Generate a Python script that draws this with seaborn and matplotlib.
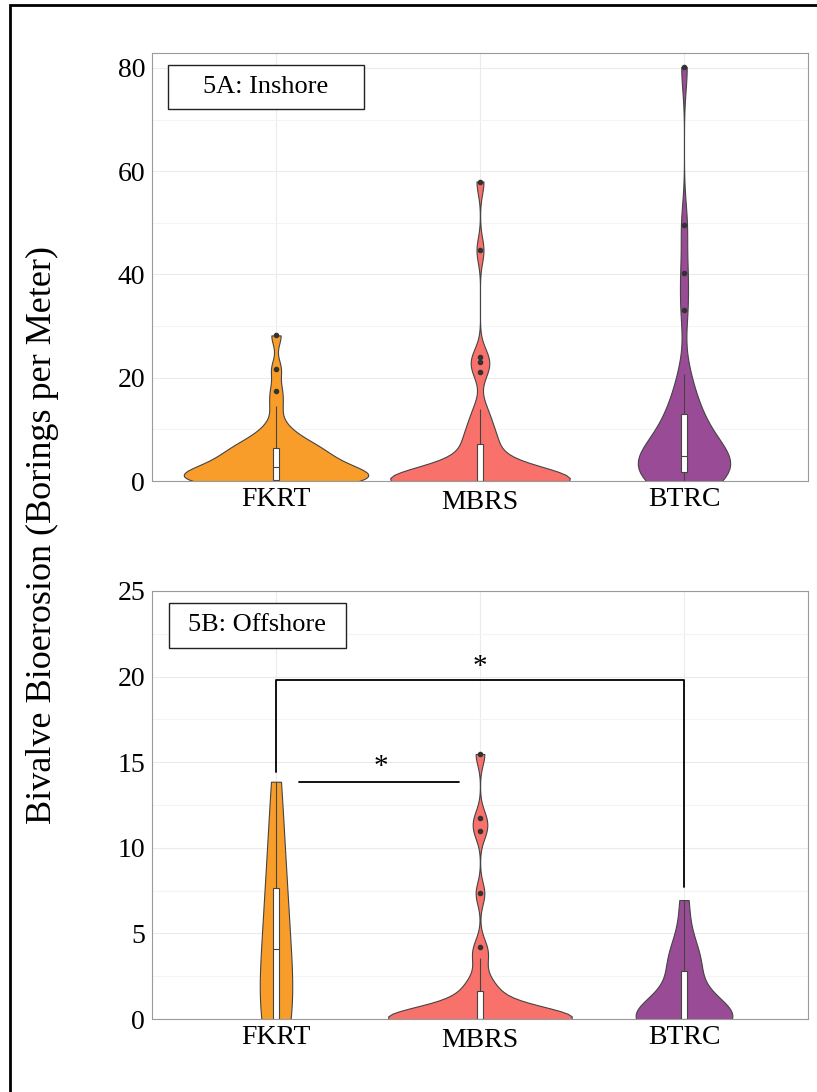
import numpy as np
import pandas as pd
import seaborn as sns
import matplotlib.pyplot as plt
from matplotlib.patches import Rectangle

sites = ['FKRT', 'MBRS', 'BTRC']
site_colors = ['#F89D2A', '#F8716B', '#9A4B95']

# 5A inshore, borings per meter
fkrt_in = [0, 0, 0, 0, 0, 0, 0, 0, 0, 0, 0.3, 0.6, 0.9, 1.2, 1.4, 1.6, 1.9, 2.2, 2.5,
           2.7, 2.8, 3.1, 3.5, 3.9, 4.3, 4.7, 5.1, 5.5, 5.9, 6.3, 6.6, 7.0, 7.6, 8.4,
           9.4, 11.0, 14.5, 17.5, 21.7, 28.2]
mbrs_in = [0] * 21 + [0.4, 0.9, 1.5, 2.1, 2.8, 3.6, 4.5, 5.6, 7.0, 7.7, 8.8, 10.2, 12.0,
                      14.0, 21.2, 23.0, 24.1, 44.7, 58.0]
btrc_in = [0, 0.2, 0.5, 0.8, 1.1, 1.4, 1.6, 1.8, 2.3, 2.8, 3.3, 3.8, 4.2, 4.5, 4.8, 5.8,
           6.9, 8.0, 9.2, 10.3, 11.6, 13.0, 14.6, 17.2, 20.7, 33.1, 40.2, 49.5, 80.2]

# 5B offshore
fkrt_off = [0, 0, 0, 0, 1.2, 2.5, 4.09, 5.0, 6.3, 7.63, 9.2, 11.5, 13.86]
mbrs_off = [0] * 18 + [0.2, 0.4, 0.6, 0.9, 1.3, 1.6, 1.8, 2.4, 3.54, 4.22, 7.34, 10.96,
                       11.72, 15.48]
btrc_off = [0] * 11 + [0.5, 1.0, 1.6, 2.7, 3.1, 3.4, 3.9, 5.0, 6.95]

# significance brackets for 5B (x in category units, y in data units)
bracket_x = [0, 0, 2, 2]
bracket_y = [14.45, 19.8, 19.8, 7.7]
star1_xy = (1, 20.55)
pair_x = [0.113, 0.897]
pair_y = [13.84, 13.84]
star2_xy = (0.515, 14.7)

# violin widths (fraction of category spacing) and kde smoothing
widths_in = [0.905, 0.88, 0.453]
widths_off = [0.159, 0.90, 0.474]
bw_adj_in = [0.8, 0.9, 1.0]
bw_adj_off = [1.0, 1.0, 0.95]

sns.set_theme(style='white')
plt.rcParams['font.family'] = ['Liberation Serif', 'DejaVu Serif']
plt.rcParams['text.color'] = 'black'


def silverman_factor(vals):
    # bandwidth like plotly's violins, returned as a factor of the std
    v = np.asarray(vals, float)
    sd = v.std(ddof=1)
    q1, q3 = np.percentile(v, [25, 75])
    bw = 1.059 * min(sd, (q3 - q1) / 1.349) * len(v) ** -0.2
    return bw / sd


def draw_panel(ax, groups, widths, bw_adj, ylim, major, minor):
    df = pd.DataFrame({
        'site': np.repeat(sites, [len(g) for g in groups]),
        'value': np.concatenate([np.asarray(g, float) for g in groups]),
    })
    for site, vals, col, w, adj in zip(sites, groups, site_colors, widths, bw_adj):
        sns.violinplot(data=df[df.site == site], x='site', y='value', order=sites,
                       color=col, saturation=1, width=w, cut=0, inner=None,
                       density_norm='width', bw_method=silverman_factor(vals),
                       bw_adjust=adj, linewidth=0.8, linecolor='#444444', ax=ax)
    sns.boxplot(data=df, x='site', y='value', order=sites, color='white',
                saturation=1, width=0.032, linewidth=0.8, linecolor='#444444',
                whis=1.5, fliersize=3,
                flierprops=dict(marker='o', markerfacecolor='#333333',
                                markeredgecolor='#333333'),
                capprops=dict(visible=False), ax=ax)
    ax.set_xlim(-0.608, 2.608)
    ax.set_ylim(*ylim)
    ax.set_yticks(major)
    ax.set_yticks(minor, minor=True)
    ax.set_axisbelow(True)
    ax.grid(which='major', color='#ebebeb', linewidth=0.8)
    ax.grid(which='minor', axis='y', color='#f4f4f4', linewidth=0.8)
    ax.set_xlabel('')
    ax.set_ylabel('')
    for s in ax.spines.values():
        s.set_color('#9a9a9a')
        s.set_linewidth(0.8)
    ax.tick_params(which='major', length=3, width=0.8, color='#9a9a9a',
                   labelsize=20, pad=2, labelcolor='black')
    ax.tick_params(which='minor', length=0)
    ax.tick_params(axis='x', pad=1)
    ax.get_xticklabels()[1].set_y(-0.007)


def tag_box(ax, x0, x1, y0, y1, label):
    ax.add_patch(Rectangle((x0, y0), x1 - x0, y1 - y0, transform=ax.transAxes,
                           fill=True, facecolor='white', edgecolor='#222222',
                           linewidth=1, zorder=5))
    ax.text((x0 + x1) / 2, (y0 + y1) / 2, label, transform=ax.transAxes,
            ha='center', va='center', fontsize=19, color='black', zorder=6)


fig = plt.figure(figsize=(8.17, 10.92), dpi=100)
ax1 = fig.add_axes([0.186, 0.5595, 0.803, 0.392])
ax2 = fig.add_axes([0.186, 0.0668, 0.803, 0.392])

draw_panel(ax1, [fkrt_in, mbrs_in, btrc_in], widths_in, bw_adj_in, (0, 82.9),
           [0, 20, 40, 60, 80], [10, 30, 50, 70])
draw_panel(ax2, [fkrt_off, mbrs_off, btrc_off], widths_off, bw_adj_off, (0, 25),
           [0, 5, 10, 15, 20, 25], [2.5, 7.5, 12.5, 17.5, 22.5])

tag_box(ax1, 0.0244, 0.323, 0.869, 0.972, '5A: Inshore')
tag_box(ax2, 0.0259, 0.2957, 0.867, 0.972, '5B: Offshore')

ax2.plot(bracket_x, bracket_y, color='black', linewidth=1.3)
ax2.plot(pair_x, pair_y, color='black', linewidth=1.3)
ax2.text(*star1_xy, '*', ha='center', va='center', fontsize=21, color='black')
ax2.text(*star2_xy, '*', ha='center', va='center', fontsize=21, color='black')

fig.text(0.0514, 0.51, 'Bivalve Bioerosion (Borings per Meter)', rotation=90,
         ha='center', va='center', fontsize=26, color='black')

fig.patches.append(Rectangle((10 / 817, -0.2), 1.5, 1.2 - 5 / 1092,
                             transform=fig.transFigure, fill=False,
                             edgecolor='black', linewidth=2))

fig.savefig('out.png', dpi=100)
